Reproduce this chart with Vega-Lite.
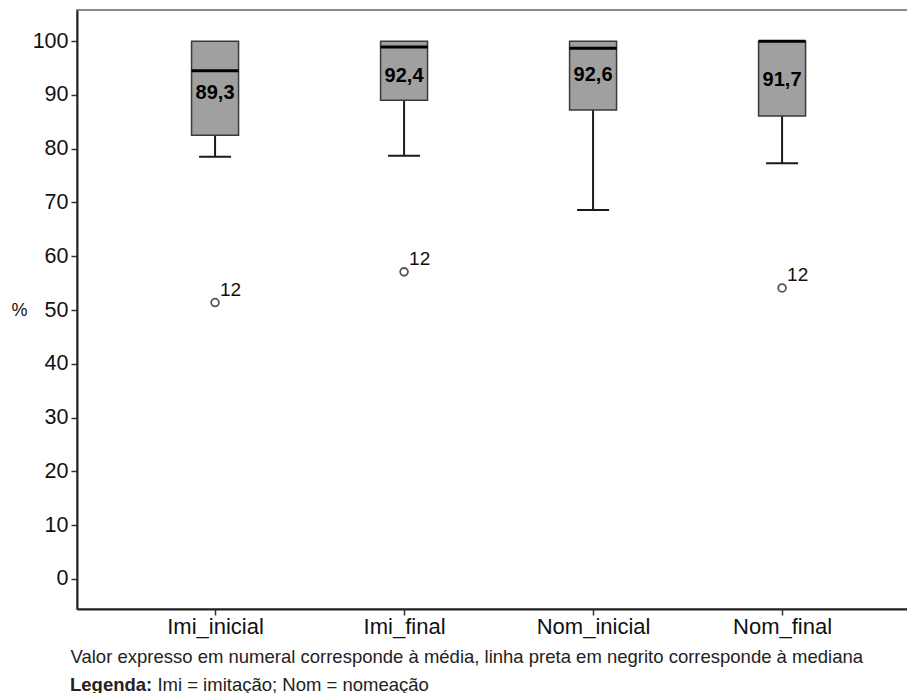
{
  "$schema": "https://vega.github.io/schema/vega-lite/v6.json",
  "autosize": "none",
  "width": 832,
  "height": 599,
  "padding": {"left": 77, "top": 10, "right": -2, "bottom": 84},
  "background": "white",
  "config": {
    "font": "Liberation Sans",
    "view": {"stroke": "#8a8a8a", "strokeWidth": 2},
    "locale": {"number": {"decimal": ",", "thousands": ".", "grouping": [3], "currency": ["", ""]}}
  },
  "title": {
    "text": "Legenda:",
    "subtitle": "\u200b\u00a0\u00a0\u00a0\u00a0\u00a0\u00a0\u00a0\u00a0\u00a0\u00a0\u00a0\u00a0\u00a0\u00a0\u00a0\u00a0\u00a0Imi = imitação; Nom = nomeação",
    "orient": "bottom",
    "anchor": "start",
    "frame": "group",
    "dx": -7,
    "offset": 10,
    "fontSize": 18.5,
    "fontWeight": "bold",
    "color": "#222",
    "subtitleFontSize": 18.5,
    "subtitleColor": "#222",
    "subtitlePadding": -18.5
  },
  "datasets": {
    "boxes": [
      {"grupo": "Imi_inicial", "minimo": 78.5, "q1": 82.5, "mediana": 94.5, "q3": 100, "media": 89.3},
      {"grupo": "Imi_final", "minimo": 78.7, "q1": 89.0, "mediana": 98.9, "q3": 100, "media": 92.4},
      {"grupo": "Nom_inicial", "minimo": 68.6, "q1": 87.2, "mediana": 98.7, "q3": 100, "media": 92.6},
      {"grupo": "Nom_final", "minimo": 77.3, "q1": 86.1, "mediana": 100, "q3": 100, "media": 91.7}
    ],
    "outliers": [
      {"grupo": "Imi_inicial", "valor": 51.4, "caso": "12"},
      {"grupo": "Imi_final", "valor": 57.1, "caso": "12"},
      {"grupo": "Nom_final", "valor": 54.1, "caso": "12"}
    ]
  },
  "encoding": {
    "x": {
      "field": "grupo",
      "type": "nominal",
      "sort": ["Imi_inicial", "Imi_final", "Nom_inicial", "Nom_final"],
      "scale": {"type": "point", "padding": 0.701, "align": 0.521},
      "axis": {
        "labelAngle": 0,
        "labelFontSize": 22,
        "labelColor": "#111",
        "labelPadding": 1,
        "tickSize": 6,
        "tickColor": "#333",
        "tickWidth": 1.5,
        "domainColor": "#222",
        "domainWidth": 2,
        "title": "Valor expresso em numeral corresponde à média, linha preta em negrito corresponde à mediana",
        "titleFontSize": 18.5,
        "titleFontWeight": "normal",
        "titleColor": "#222",
        "titleAlign": "left",
        "titleAnchor": "start",
        "titleBaseline": "alphabetic",
        "titleX": -7,
        "titleY": 53
      }
    }
  },
  "layer": [
    {
      "data": {"name": "boxes"},
      "mark": {"type": "rule", "stroke": "#1a1a1a", "strokeWidth": 2},
      "encoding": {
        "y": {
          "field": "minimo",
          "type": "quantitative",
          "scale": {"domain": [-5.6, 105.8], "nice": false, "zero": false},
          "axis": {
            "values": [0, 10, 20, 30, 40, 50, 60, 70, 80, 90, 100],
            "grid": false,
            "labelFontSize": 21.5,
            "labelColor": "#111",
            "labelPadding": 3,
            "tickSize": 6,
            "tickColor": "#333",
            "tickWidth": 1.5,
            "domainColor": "#222",
            "domainWidth": 2,
            "title": "%",
            "titleAngle": 0,
            "titleFontSize": 18,
            "titleFontWeight": "normal",
            "titleColor": "#111",
            "titleAlign": "center",
            "titleBaseline": "middle",
            "titleX": -58,
            "titleY": 300
          }
        },
        "y2": {"field": "q1"}
      }
    },
    {
      "data": {"name": "boxes"},
      "mark": {"type": "tick", "color": "#1a1a1a", "size": 32, "thickness": 2, "opacity": 1},
      "encoding": {"y": {"field": "minimo", "type": "quantitative"}}
    },
    {
      "data": {"name": "boxes"},
      "mark": {"type": "bar", "size": 47, "fill": "#a0a0a0", "stroke": "#3a3a3a", "strokeWidth": 1.5},
      "encoding": {
        "y": {"field": "q1", "type": "quantitative"},
        "y2": {"field": "q3"}
      }
    },
    {
      "data": {"name": "boxes"},
      "mark": {"type": "tick", "color": "#000", "size": 47, "thickness": 3, "opacity": 1},
      "encoding": {"y": {"field": "mediana", "type": "quantitative"}}
    },
    {
      "data": {"name": "boxes"},
      "mark": {"type": "text", "fontSize": 20, "fontWeight": "bold", "color": "#000", "baseline": "alphabetic", "align": "center"},
      "encoding": {
        "y": {"field": "media", "type": "quantitative"},
        "text": {"field": "media", "type": "quantitative", "format": ".1f"}
      }
    },
    {
      "data": {"name": "outliers"},
      "mark": {"type": "point", "shape": "circle", "size": 60, "filled": false, "fill": "white", "stroke": "#555", "strokeWidth": 1.8, "opacity": 1},
      "encoding": {"y": {"field": "valor", "type": "quantitative"}}
    },
    {
      "data": {"name": "outliers"},
      "mark": {"type": "text", "fontSize": 19, "color": "#111", "align": "left", "baseline": "alphabetic", "dx": 5, "dy": -7},
      "encoding": {
        "y": {"field": "valor", "type": "quantitative"},
        "text": {"field": "caso", "type": "nominal"}
      }
    }
  ]
}
